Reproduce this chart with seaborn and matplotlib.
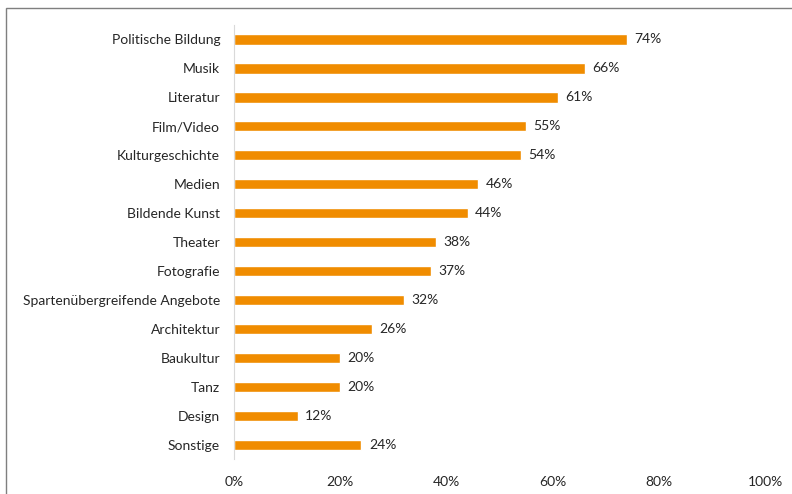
import matplotlib
matplotlib.use("Agg")
import matplotlib.pyplot as plt
import seaborn as sns
import pandas as pd
from matplotlib.patches import Rectangle

# Daten
kategorien = [
    "Politische Bildung", "Musik", "Literatur", "Film/Video",
    "Kulturgeschichte", "Medien", "Bildende Kunst", "Theater",
    "Fotografie", "Spartenübergreifende Angebote", "Architektur",
    "Baukultur", "Tanz", "Design", "Sonstige",
]
anteile = [74, 66, 61, 55, 54, 46, 44, 38, 37, 32, 26, 20, 20, 12, 24]
x_ticks = [0, 20, 40, 60, 80, 100]

df = pd.DataFrame({"kategorie": kategorien, "anteil": anteile})

sns.set_style("white")
plt.rcParams["font.family"] = ["Lato", "DejaVu Sans"]

fig = plt.figure(figsize=(7.92, 4.94), dpi=100)
ax = fig.add_axes([0.2955, 0.070, 0.6705, 0.880])

sns.barplot(
    data=df,
    x="anteil",
    y="kategorie",
    color="#F08C00",
    saturation=1,
    width=0.37,
    ax=ax,
)

for i, v in enumerate(anteile):
    ax.text(v + 1.4, i, f"{v}%", va="center", ha="left",
            fontsize=10, color="#262626")

ax.set_xlim(0, 100)
ax.set_ylim(len(kategorien) - 0.5, -0.5)
ax.set_xticks(x_ticks)
ax.set_xticklabels([f"{t}%" for t in x_ticks], fontsize=10, color="#262626")
ax.tick_params(axis="y", labelsize=10, colors="#262626", length=0, pad=10)
ax.tick_params(axis="x", length=0, pad=12)
ax.set_xlabel("")
ax.set_ylabel("")

for s in ["top", "right", "bottom"]:
    ax.spines[s].set_visible(False)
ax.spines["left"].set_color("#D9D9D9")
ax.spines["left"].set_linewidth(0.8)

# Rahmen
fig.patches.append(Rectangle((6 / 792, -0.05), 1.0, 1 - 8 / 494 + 0.05,
                             transform=fig.transFigure, fill=False,
                             edgecolor="#7F7F7F", linewidth=1.0))

fig.savefig("out.png", dpi=100)
